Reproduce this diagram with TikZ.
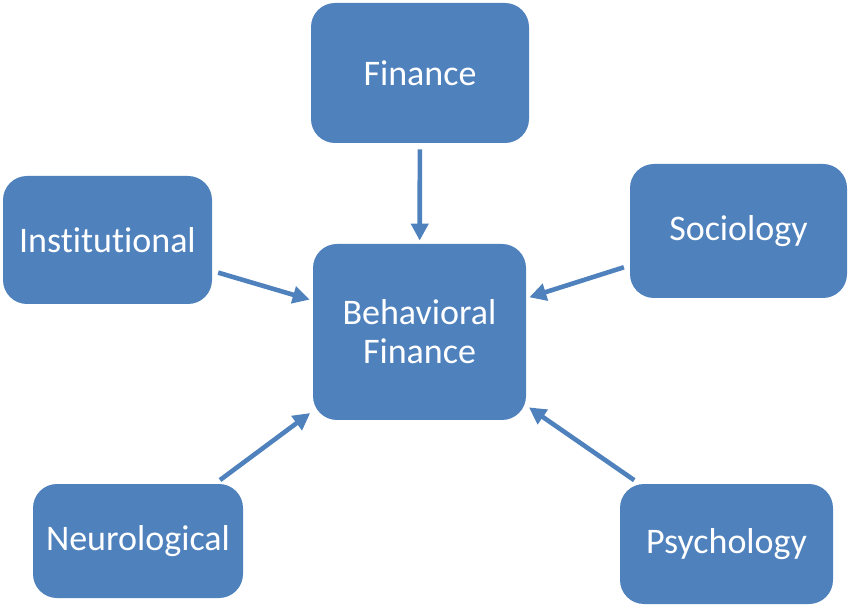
\documentclass[tikz,border=0pt]{standalone}
\usepackage{fontspec}
\setmainfont{Carlito}[RawFeature=-liga]
\usetikzlibrary{arrows.meta}

\begin{document}
\begin{tikzpicture}[x=0.5pt,y=-0.5pt]
\definecolor{boxBlue}{HTML}{4F81BD}
\tikzset{
  fieldBox/.style={fill=boxBlue,rounded corners=12pt,inner sep=0pt,
    text=white,align=center,font=\fontsize{18}{19.5}\selectfont},
  feedArrow/.style={draw=boxBlue,line width=2.3pt,
    -{Triangle[width=8.5pt,length=8.5pt]},shorten <=3pt,shorten >=1.5pt}
}
\useasboundingbox (0,0) rectangle (850,608);
\node[fieldBox,minimum width=109pt,minimum height=70pt] (fin) at (420,73) {Finance};
\node[fieldBox,minimum width=104.5pt,minimum height=64pt] (inst) at (107.5,240) {Institutional};
\node[fieldBox,minimum width=108.5pt,minimum height=67pt] (soc) at (738.5,231) {Sociology};
\node[fieldBox,minimum width=106.5pt,minimum height=88pt] (bf) at (419.5,332) {Behavioral\\Finance};
\node[fieldBox,minimum width=105pt,minimum height=57pt] (neu) at (138,541) {Neurological};
\node[fieldBox,minimum width=106.5pt,minimum height=60pt] (psy) at (726.5,544) {Psychology};
% arrows into the centre box
\foreach \src in {fin,inst,soc,neu,psy} {
  \draw[feedArrow] (\src) -- (bf);
}
\end{tikzpicture}
\end{document}
